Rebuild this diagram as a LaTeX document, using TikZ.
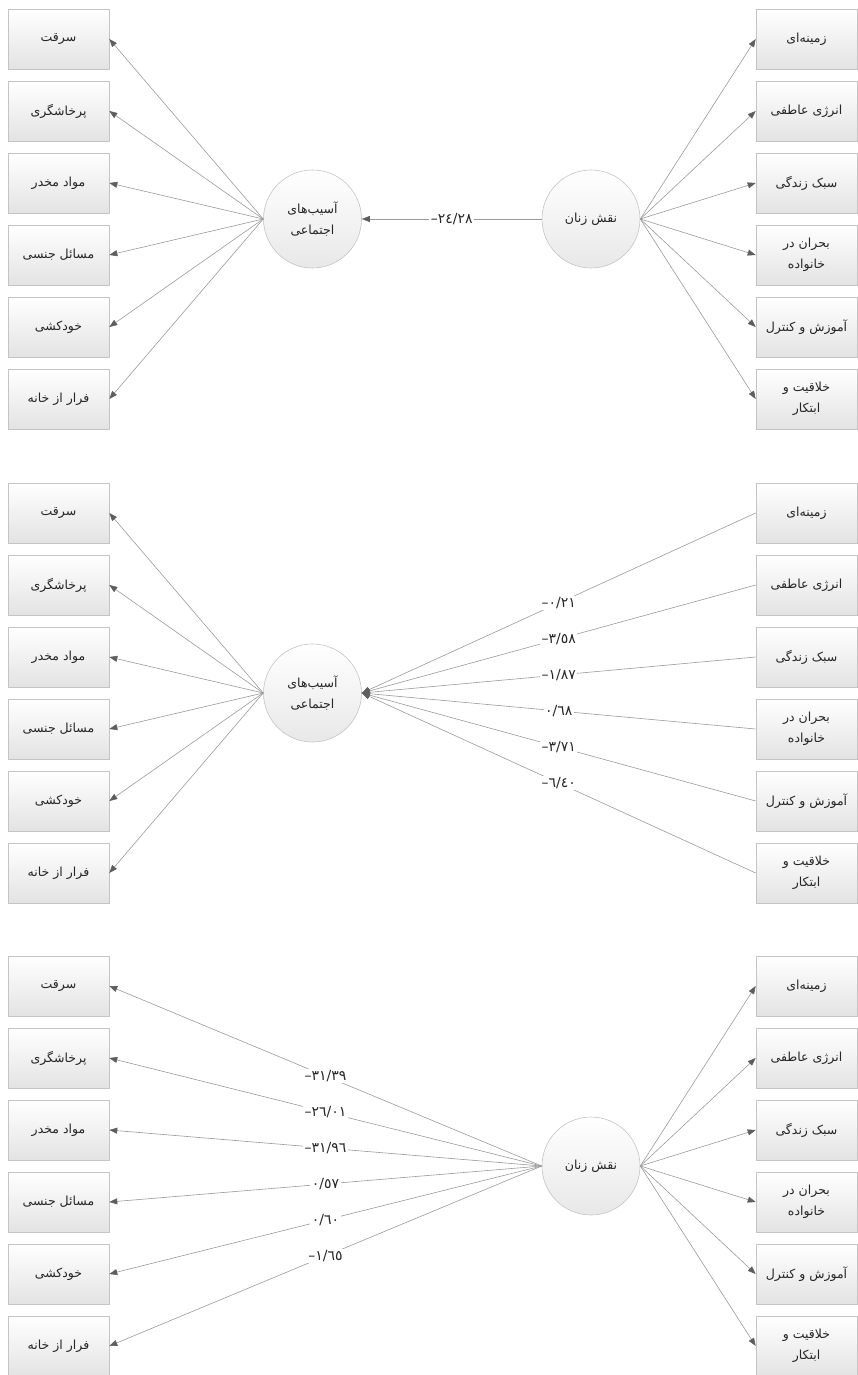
\documentclass[tikz,border=0pt]{standalone}
\usepackage{fontspec}
\newfontfamily\fa[Script=Arabic]{DejaVu Sans}
\TeXXeTstate=1
\usetikzlibrary{arrows.meta,shadows}
\definecolor{linec}{HTML}{9A9A9A}
\definecolor{headc}{HTML}{5E5E5E}
\definecolor{boxb}{HTML}{C4C4C4}
\definecolor{txt}{HTML}{262626}
\newcommand\RT[1]{\beginR #1\endR}
\newcommand\NEG{\mbox{–}}
\newcommand\sixleft[2]{%
  \foreach \t [count=\i] in {\RT{سرقت},\RT{پرخاشگری},\RT{مواد مخدر},\RT{مسائل جنسی},\RT{خودکشی},\RT{فرار از خانه}}
    {\node[box] (#1\i) at (58.5,{#2+72*(\i-1)}) {\t};}}
\newcommand\sixright[2]{%
  \foreach \t [count=\i] in {\RT{زمینه‌ای},\RT{انرژی عاطفی},\RT{سبک زندگی},{\RT{بحران در}\\\RT{خانواده}},\RT{آموزش و کنترل},{\RT{خلاقیت و}\\\RT{ابتکار}}}
    {\node[box] (#1\i) at (806.5,{#2+72*(\i-1)}) {\t};}}
\begin{document}
\begin{tikzpicture}[x=1pt,y=-1pt,
  box/.style={draw=boxb, line width=0.6pt, top color=white, bottom color=black!11,
    minimum width=101pt, minimum height=60pt, inner sep=1pt, align=center,
    text=txt, font=\fa\fontsize{12.5}{21}\selectfont,
    drop shadow={opacity=0.18, shadow xshift=1.2pt, shadow yshift=-1.2pt}},
  circ/.style={circle, draw=boxb, line width=0.6pt, top color=white, bottom color=black!9,
    minimum size=98pt, inner sep=0pt, align=center, text=txt,
    font=\fa\fontsize{12.5}{21}\selectfont},
  arr/.style={draw=linec, line width=0.6pt, -{Triangle[length=8pt,width=6pt,color=headc]}},
  lbl/.style={fill=white, inner sep=1.5pt, text=txt, font=\fa\fontsize{14}{14}\selectfont}]
\useasboundingbox (0,0) rectangle (857,1375);

% ---------- Panel 1 ----------
\sixleft{PaL}{39}
\sixright{PaR}{39}
\node[circ] (Aa) at (312.5,219) {\RT{آسیب‌های}\\\RT{اجتماعی}};
\node[circ] (Na) at (591,219) {\RT{نقش زنان}};
\foreach \i in {1,...,6} {\draw[arr] (Aa.west) -- (PaL\i.east);}
\foreach \i in {1,...,6} {\draw[arr] (Na.east) -- (PaR\i.west);}
\draw[arr] (Na.west) -- node[lbl] {\NEG\mbox{٢٤/٢٨}} (Aa.east);

% ---------- Panel 2 ----------
\sixleft{PbL}{513}
\sixright{PbR}{513}
\node[circ] (Ab) at (312.5,693) {\RT{آسیب‌های}\\\RT{اجتماعی}};
\foreach \i in {1,...,6} {\draw[arr] (Ab.west) -- (PbL\i.east);}
\draw[arr] (PbR1.west) -- node[lbl] {\NEG\mbox{٠/٢١}} (Ab.east);
\draw[arr] (PbR2.west) -- node[lbl] {\NEG\mbox{٣/٥٨}} (Ab.east);
\draw[arr] (PbR3.west) -- node[lbl] {\NEG\mbox{١/٨٧}} (Ab.east);
\draw[arr] (PbR4.west) -- node[lbl] {\mbox{٠/٦٨}} (Ab.east);
\draw[arr] (PbR5.west) -- node[lbl] {\NEG\mbox{٣/٧١}} (Ab.east);
\draw[arr] (PbR6.west) -- node[lbl] {\NEG\mbox{٦/٤٠}} (Ab.east);

% ---------- Panel 3 ----------
\sixleft{PcL}{986}
\sixright{PcR}{986}
\node[circ] (Nc) at (591,1166) {\RT{نقش زنان}};
\foreach \i in {1,...,6} {\draw[arr] (Nc.east) -- (PcR\i.west);}
\draw[arr] (Nc.west) -- node[lbl] {\NEG\mbox{٣١/٣٩}} (PcL1.east);
\draw[arr] (Nc.west) -- node[lbl] {\NEG\mbox{٢٦/٠١}} (PcL2.east);
\draw[arr] (Nc.west) -- node[lbl] {\NEG\mbox{٣١/٩٦}} (PcL3.east);
\draw[arr] (Nc.west) -- node[lbl] {\mbox{٠/٥٧}} (PcL4.east);
\draw[arr] (Nc.west) -- node[lbl] {\mbox{٠/٦٠}} (PcL5.east);
\draw[arr] (Nc.west) -- node[lbl] {\NEG\mbox{١/٦٥}} (PcL6.east);
\end{tikzpicture}
\end{document}
